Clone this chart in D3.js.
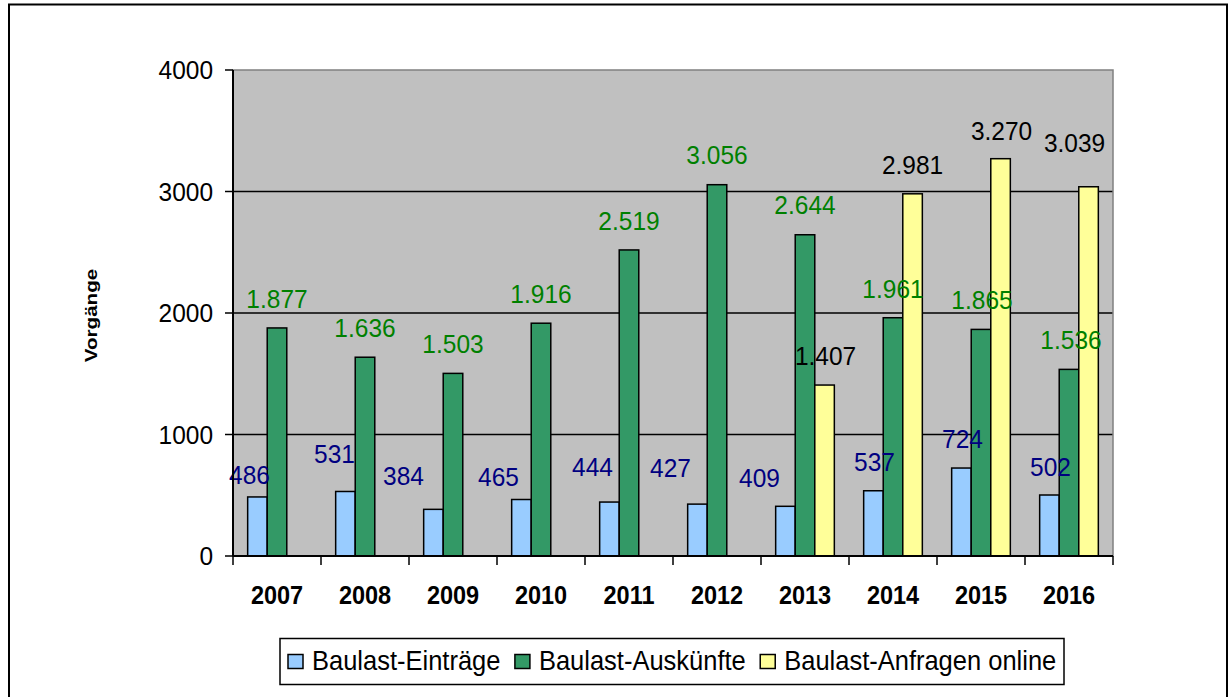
<!DOCTYPE html>
<html>
<head>
<meta charset="utf-8">
<script src="https://cdn.jsdelivr.net/npm/d3@7"></script>
<style>
  html, body { margin: 0; padding: 0; background: #fff; }
  svg { display: block; font-family: "Liberation Sans", Arial, sans-serif; }
</style>
</head>
<body>
<svg id="chart" width="1229" height="697"></svg>
<script>
// Jahre und Vorgänge je Kategorie
const years = ["2007", "2008", "2009", "2010", "2011", "2012", "2013", "2014", "2015", "2016"];
const eintraege = [486, 531, 384, 465, 444, 427, 409, 537, 724, 502];
const auskuenfte = [1877, 1636, 1503, 1916, 2519, 3056, 2644, 1961, 1865, 1536];
const anfragenOnline = [null, null, null, null, null, null, 1407, 2981, 3270, 3039];
const seriesNames = ["Baulast-Einträge", "Baulast-Auskünfte", "Baulast-Anfragen online"];
const yTicks = [0, 1000, 2000, 3000, 4000];

// Feinverschiebung der Datenbeschriftungen (px, relativ zur Standardlage über dem Balken)
const nudgeEintraege = [[-8, 7], [-11, -8], [-30, -4], [-23, 6], [-17, -6], [-27, -7], [-26, 1], [1, 0], [1, 0], [1, 1]];
const nudgeAuskuenfte = [[0, 0], [0, 0], [0, 0], [0, 0], [0, 0], [0, -1], [0, -1], [0, 0], [1, 0], [2, 0]];
const nudgeOnline = [[0, 0], [0, 0], [0, 0], [0, 0], [0, 0], [0, 0], [1, 0], [0, 0], [1, 1], [-14, -15]];

const colors = ["#99CCFF", "#339966", "#FFFF99"];
const labelColors = ["#000080", "#008000", "#000000"];

const svg = d3.select("#chart");

// Rahmen des Diagrammbereichs
svg.append("rect")
  .attr("x", 9).attr("y", 4.5)
  .attr("width", 1218).attr("height", 720)
  .attr("fill", "#fff").attr("stroke", "#000").attr("stroke-width", 2);

const plot = { left: 233, right: 1113, top: 70, bottom: 556 };

const x = d3.scaleBand().domain(years).range([plot.left, plot.right]).paddingInner(0).paddingOuter(0);
const y = d3.scaleLinear().domain([0, 4000]).range([plot.bottom, plot.top]);

// Balken innerhalb einer Gruppe: Lückenbreite 50 %
const barW = x.bandwidth() / 4.5;
const groupOffset = barW * 0.75;

// Zeichenfläche
svg.append("rect")
  .attr("x", plot.left).attr("y", plot.top)
  .attr("width", plot.right - plot.left).attr("height", plot.bottom - plot.top)
  .attr("fill", "#C0C0C0");

// Gitternetzlinien
svg.append("g")
  .selectAll("line")
  .data(yTicks.filter(t => t > 0 && t < 4000))
  .join("line")
  .attr("x1", plot.left).attr("x2", plot.right)
  .attr("y1", d => y(d)).attr("y2", d => y(d))
  .attr("stroke", "#000").attr("stroke-width", 1.5);

// Rand der Zeichenfläche
svg.append("rect")
  .attr("x", plot.left).attr("y", plot.top)
  .attr("width", plot.right - plot.left).attr("height", plot.bottom - plot.top)
  .attr("fill", "none").attr("stroke", "#808080").attr("stroke-width", 1.5);

const fmt = d3.formatLocale({ decimal: ",", thousands: ".", grouping: [3], currency: ["", " €"] }).format(",d");

const allSeries = [eintraege, auskuenfte, anfragenOnline];
const allNudges = [nudgeEintraege, nudgeAuskuenfte, nudgeOnline];

const barLayer = svg.append("g");
const labelLayer = svg.append("g");

allSeries.forEach((vals, s) => {
  const data = years.map((yr, i) => ({ yr, v: vals[i], i })).filter(d => d.v != null);
  const bx = d => x(d.yr) + groupOffset + s * barW;

  barLayer.append("g")
    .selectAll("rect")
    .data(data)
    .join("rect")
    .attr("x", bx)
    .attr("y", d => y(d.v))
    .attr("width", barW)
    .attr("height", d => y(0) - y(d.v))
    .attr("fill", colors[s])
    .attr("stroke", "#000")
    .attr("stroke-width", 1.5);

  labelLayer.append("g")
    .selectAll("text")
    .data(data)
    .join("text")
    .attr("transform", d =>
      `translate(${bx(d) + barW / 2 + allNudges[s][d.i][0]},${y(d.v) - 20 + allNudges[s][d.i][1]}) scale(1,1.05)`)
    .attr("text-anchor", "middle")
    .attr("font-size", 24.5)
    .attr("fill", labelColors[s])
    .text(d => fmt(d.v));
});

// Y-Achse
svg.append("line")
  .attr("x1", plot.left).attr("x2", plot.left)
  .attr("y1", plot.top).attr("y2", plot.bottom)
  .attr("stroke", "#000").attr("stroke-width", 2);

const yAxis = svg.append("g");
yAxis.selectAll("line")
  .data(yTicks)
  .join("line")
  .attr("x1", plot.left - 8).attr("x2", plot.left)
  .attr("y1", d => y(d)).attr("y2", d => y(d))
  .attr("stroke", "#000").attr("stroke-width", 1.5);
yAxis.selectAll("text")
  .data(yTicks)
  .join("text")
  .attr("transform", d => `translate(${plot.left - 20},${y(d) + 9}) scale(1,1.05)`)
  .attr("text-anchor", "end")
  .attr("font-size", 24.5)
  .attr("fill", "#000")
  .text(d => d);

// X-Achse
svg.append("line")
  .attr("x1", plot.left).attr("x2", plot.right)
  .attr("y1", plot.bottom).attr("y2", plot.bottom)
  .attr("stroke", "#000").attr("stroke-width", 2);

const xAxis = svg.append("g");
xAxis.selectAll("line")
  .data(years.concat(["end"]))
  .join("line")
  .attr("x1", (d, i) => i < years.length ? x(d) : plot.right)
  .attr("x2", (d, i) => i < years.length ? x(d) : plot.right)
  .attr("y1", plot.bottom).attr("y2", plot.bottom + 9)
  .attr("stroke", "#000").attr("stroke-width", 1.5);
xAxis.selectAll("text")
  .data(years)
  .join("text")
  .attr("transform", d => `translate(${x(d) + x.bandwidth() / 2},603.5) scale(1,1.08)`)
  .attr("text-anchor", "middle")
  .attr("font-size", 23.5)
  .attr("font-weight", "bold")
  .attr("fill", "#000")
  .text(d => d);

// Achsentitel
svg.append("text")
  .attr("transform", "translate(97,315.5) rotate(-90) scale(1.25,1)")
  .attr("text-anchor", "middle")
  .attr("font-size", 16.5)
  .attr("font-weight", "bold")
  .text("Vorgänge");

// Legende
const legend = { x: 280, y: 638.5, w: 784, h: 46 };
svg.append("rect")
  .attr("x", legend.x).attr("y", legend.y)
  .attr("width", legend.w).attr("height", legend.h)
  .attr("fill", "#fff").attr("stroke", "#000").attr("stroke-width", 1.5);

const items = svg.append("g");
let cx = 288;
seriesNames.forEach((name, s) => {
  items.append("rect")
    .attr("x", cx).attr("y", 654.5)
    .attr("width", 15).attr("height", 14)
    .attr("fill", colors[s]).attr("stroke", "#000").attr("stroke-width", 1.5);
  const t = items.append("text")
    .attr("transform", `translate(${cx + 24},670.3) scale(1,1.07)`)
    .attr("font-size", 25.5)
    .attr("fill", "#000")
    .text(name);
  cx += 24 + t.node().getComputedTextLength() + 14.5;
});
</script>
</body>
</html>
